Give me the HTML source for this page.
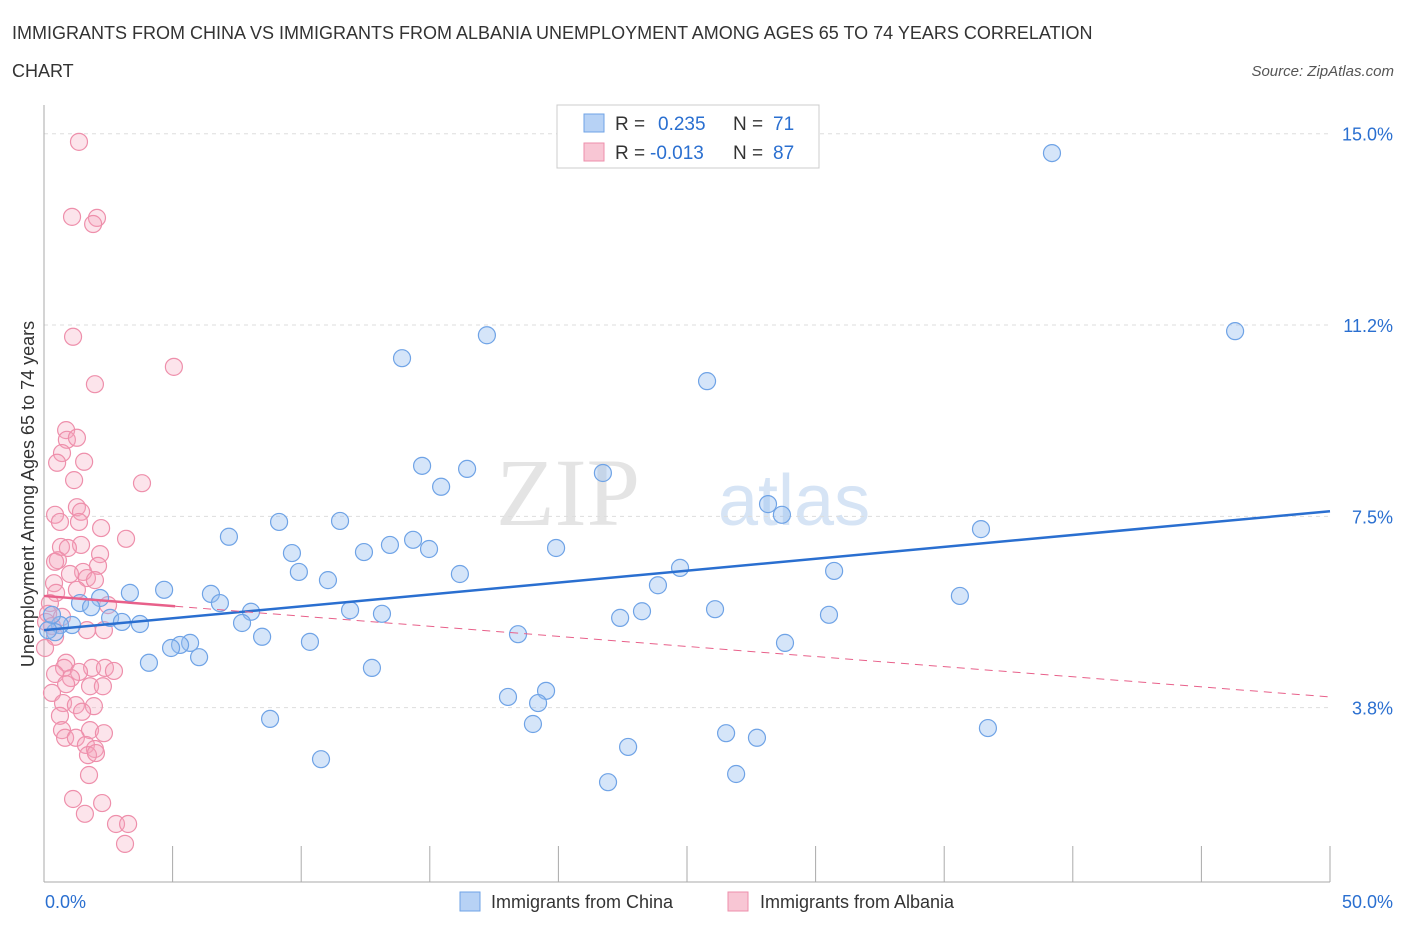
<!DOCTYPE html>
<html><head><meta charset="utf-8"><style>
body{margin:0;background:#fff;font-family:"Liberation Sans",sans-serif;}
svg{display:block}
</style></head><body>
<svg id="chart" width="1406" height="930" xmlns="http://www.w3.org/2000/svg">
<text x="12" y="39" font-size="18" fill="#333">IMMIGRANTS FROM CHINA VS IMMIGRANTS FROM ALBANIA UNEMPLOYMENT AMONG AGES 65 TO 74 YEARS CORRELATION</text>
<text x="12" y="77" font-size="18" fill="#333">CHART</text>
<text x="1394" y="76" font-size="15" fill="#555" font-style="italic" text-anchor="end">Source: ZipAtlas.com</text>
<text x="640" y="525" font-size="96" fill="#e4e4e4" text-anchor="end" font-family="Liberation Serif,serif">ZIP</text>
<text x="718" y="525" font-size="72" fill="#d6e4f5">atlas</text>
<g id="grid"></g>
<g id="axes"></g>
<g id="pts"></g>
<g id="trends"></g>
<text transform="translate(34,494) rotate(-90)" font-size="18" fill="#333" text-anchor="middle">Unemployment Among Ages 65 to 74 years</text>
<g>
<rect x="557" y="105" width="262" height="63" fill="#fff" stroke="#ccc"/>
<rect x="584" y="114" width="20" height="18" fill="#b7d2f5" stroke="#6fa3e6"/>
<text x="615" y="130" font-size="19" fill="#333">R = </text><text x="658" y="130" font-size="19" fill="#2a6fd0">0.235</text>
<text x="733" y="130" font-size="19" fill="#333">N = </text><text x="773" y="130" font-size="19" fill="#2a6fd0">71</text>
<rect x="584" y="143" width="20" height="18" fill="#f8c6d4" stroke="#ee8fab"/>
<text x="615" y="159" font-size="19" fill="#333">R = </text><text x="650" y="159" font-size="19" fill="#2a6fd0">-0.013</text>
<text x="733" y="159" font-size="19" fill="#333">N = </text><text x="773" y="159" font-size="19" fill="#2a6fd0">87</text>
</g>
<g>
<rect x="460" y="892" width="20" height="19" fill="#b7d2f5" stroke="#6fa3e6"/>
<text x="491" y="908" font-size="18" fill="#333">Immigrants from China</text>
<rect x="728" y="892" width="20" height="19" fill="#f8c6d4" stroke="#ee8fab"/>
<text x="760" y="908" font-size="18" fill="#333">Immigrants from Albania</text>
</g>
</svg>
<script>
const chinaX=[39.19,46.31,17.22,13.92,25.78,14.70,16.45,21.73,15.44,28.15,28.69,36.43,7.19,9.14,11.51,14.35,13.45,14.97,19.91,9.64,12.44,24.73,30.72,9.91,16.17,11.04,23.87,35.61,4.67,3.34,6.49,2.18,1.40,1.83,6.84,26.09,23.25,22.40,11.90,13.14,8.05,30.52,2.57,3.03,3.73,7.70,1.09,0.62,0.43,8.48,18.43,10.34,5.68,5.29,4.94,28.81,6.03,4.08,12.75,19.52,18.04,19.21,8.79,19.01,26.52,27.72,22.71,36.70,10.77,26.91,21.93,0.16,0.31];
const chinaY=[14.62,11.13,11.05,10.60,10.15,8.49,8.43,8.35,8.08,7.74,7.53,7.25,7.10,7.39,7.41,7.04,6.94,6.86,6.88,6.78,6.80,6.49,6.43,6.41,6.37,6.25,6.15,5.94,6.06,6.00,5.98,5.90,5.80,5.72,5.80,5.68,5.64,5.51,5.66,5.59,5.63,5.57,5.51,5.43,5.39,5.41,5.37,5.37,5.23,5.14,5.19,5.04,5.02,4.98,4.92,5.02,4.74,4.63,4.53,4.08,3.96,3.84,3.53,3.43,3.25,3.16,2.98,3.35,2.74,2.45,2.29,5.27,5.57];
const albX=[1.36,1.09,2.06,1.91,1.13,5.05,1.98,0.86,0.89,1.28,0.70,0.51,1.56,3.81,1.17,1.28,0.43,1.44,0.62,1.36,2.22,3.19,0.66,1.44,0.93,2.18,0.54,0.43,1.52,2.10,0.39,1.01,1.67,1.98,0.47,1.28,0.23,2.49,0.16,0.70,0.08,0.31,0.43,1.67,2.33,0.04,0.86,0.78,1.87,2.37,1.36,2.72,0.43,1.05,0.86,1.79,2.29,0.31,0.74,1.24,1.94,1.48,0.62,1.79,0.70,2.33,0.82,1.24,1.63,1.98,1.71,2.02,1.75,1.13,2.26,1.59,2.80,3.27,3.15];
const albY=[14.84,13.37,13.35,13.23,11.02,10.43,10.09,9.19,9.00,9.04,8.74,8.55,8.57,8.15,8.21,7.68,7.53,7.59,7.39,7.39,7.27,7.06,6.90,6.94,6.88,6.76,6.64,6.61,6.41,6.53,6.19,6.37,6.29,6.25,6.00,6.06,5.80,5.76,5.59,5.53,5.43,5.35,5.14,5.27,5.27,4.92,4.63,4.53,4.53,4.53,4.45,4.47,4.41,4.33,4.21,4.17,4.17,4.04,3.84,3.80,3.78,3.67,3.59,3.31,3.31,3.25,3.16,3.16,3.02,2.94,2.82,2.86,2.43,1.96,1.88,1.67,1.47,1.47,1.08];
const yTicks=[15,11.25,7.5,3.75];
const yTickLabels=["15.0%","11.2%","7.5%","3.8%"];
const xTickVals=[0,5,10,15,20,25,30,35,40,45,50];
const chinaTrend=[5.27,7.60];
const albTrend=[5.94,3.96];
const albSolidEnd=5.1;
const NS="http://www.w3.org/2000/svg";
const X=v=>44+v*25.72, Y=v=>899-v*51.02;
function mk(t,a,p){const e=document.createElementNS(NS,t);for(const k in a)e.setAttribute(k,a[k]);p.appendChild(e);return e;}
const grid=document.getElementById('grid'),axes=document.getElementById('axes'),pts=document.getElementById('pts'),tr=document.getElementById('trends');
yTicks.forEach((v,i)=>{
 const l=mk('line',{x1:44,x2:1330,y1:Y(v),y2:Y(v),stroke:'#ddd','stroke-dasharray':'4,4'},grid);
 
 
 const t=mk('text',{x:1393,y:Y(v)+7,'font-size':18,fill:'#2a6fd0','text-anchor':'end'},grid);
 t.textContent=yTickLabels[i];
 
 
});
const ya=mk('line',{x1:44,x2:44,y1:105,y2:882,stroke:'#aaa'},axes);


const xa=mk('line',{x1:44,x2:1330,y1:882,y2:882,stroke:'#aaa'},axes);


xTickVals.forEach(v=>{
 const l=mk('line',{x1:X(v),x2:X(v),y1:846,y2:882,stroke:'#aaa'},axes);
 
 
});
const x0=mk('text',{x:45,y:908,'font-size':18,fill:'#2a6fd0'},axes);x0.textContent='0.0%';


const x1=mk('text',{x:1393,y:908,'font-size':18,fill:'#2a6fd0','text-anchor':'end'},axes);x1.textContent='50.0%';


albX.forEach((v,i)=>{
 const c=mk('circle',{cx:X(v),cy:Y(albY[i]),r:8.5,fill:'rgba(245,165,190,0.3)',stroke:'#ee8fab','stroke-width':1.2},pts);
 
 
});
chinaX.forEach((v,i)=>{
 const c=mk('circle',{cx:X(v),cy:Y(chinaY[i]),r:8.5,fill:'rgba(150,190,240,0.4)',stroke:'#6fa3e6','stroke-width':1.2},pts);
 
 
});
const bl=mk('line',{x1:X(0),y1:Y(chinaTrend[0]),x2:X(50),y2:Y(chinaTrend[1]),stroke:'#2a6fd0','stroke-width':2.5},tr);


const pe=albTrend[0]+(albTrend[1]-albTrend[0])*albSolidEnd/50;
const ps=mk('line',{x1:X(0),y1:Y(albTrend[0]),x2:X(albSolidEnd),y2:Y(pe),stroke:'#e8608a','stroke-width':2.5},tr);


const pd=mk('line',{x1:X(albSolidEnd),y1:Y(pe),x2:X(50),y2:Y(albTrend[1]),stroke:'#e8608a','stroke-width':1,'stroke-dasharray':'8,6'},tr);


</script>
</body></html>
